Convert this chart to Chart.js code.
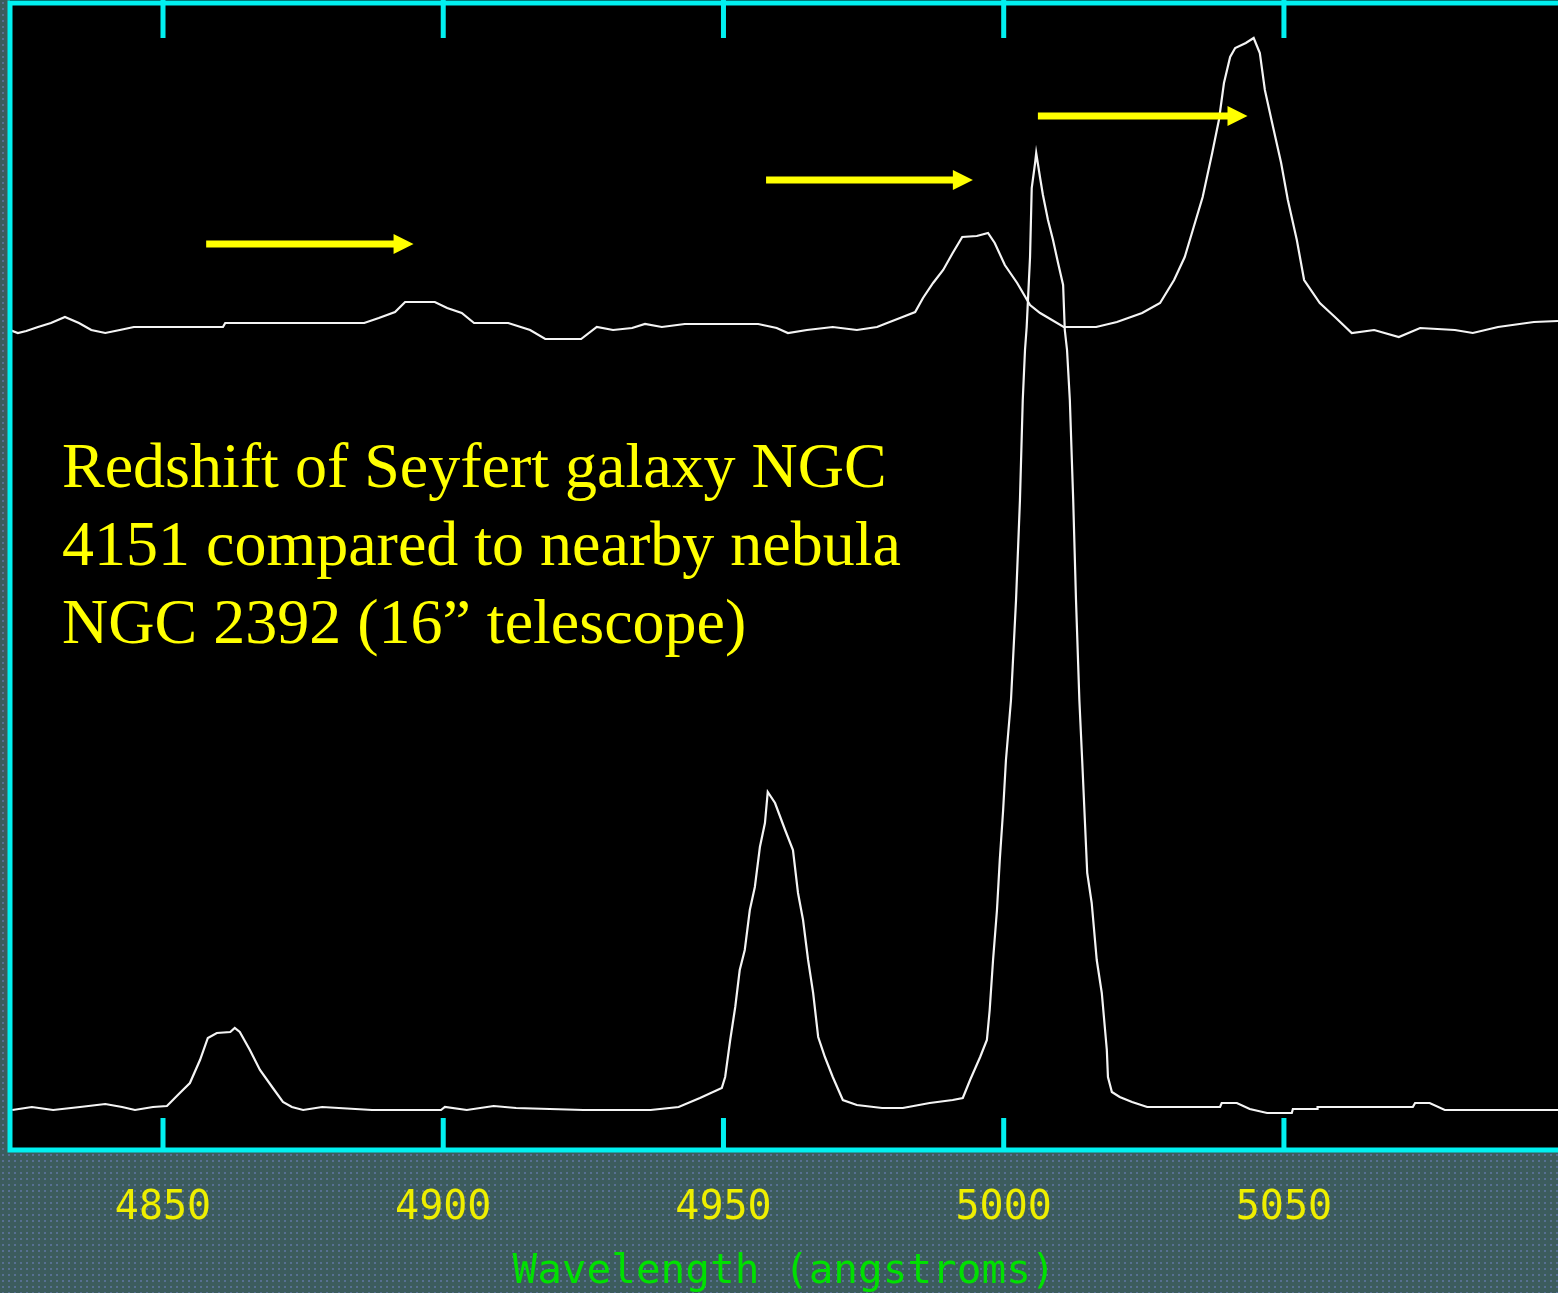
<!DOCTYPE html>
<html>
<head>
<meta charset="utf-8">
<title>NGC 4151 vs NGC 2392 spectrum</title>
<script src="https://cdn.jsdelivr.net/npm/chart.js@4.4.0/dist/chart.umd.min.js"></script>
<style>
  html, body { margin: 0; padding: 0; }
  body {
    width: 1558px;
    height: 1293px;
    overflow: hidden;
    background-color: #3c5c5d;
    background-image: radial-gradient(rgba(110, 130, 190, 0.55) 0.8px, transparent 1.4px);
    background-size: 6px 6px;
  }
  #wrap { position: relative; width: 1558px; height: 1293px; }
</style>
</head>
<body>
<div id="wrap"><canvas id="spectrum"></canvas></div>
<script>
// Seyfert galaxy NGC 4151 (upper trace), wavelength in angstroms / relative counts
const galaxyWl = [4822.7, 4824.1, 4825.6, 4827.7, 4830.0, 4832.5, 4835.0, 4837.2, 4839.7, 4842.3,
    4844.8, 4860.7, 4861.1, 4885.9, 4888.5, 4891.4, 4893.2, 4898.5, 4900.7, 4903.3,
    4905.5, 4911.6, 4915.5, 4918.2, 4924.6, 4927.4, 4930.3, 4933.7, 4936.0, 4939.0,
    4943.1, 4956.2, 4959.5, 4961.5, 4964.9, 4969.5, 4973.8, 4977.4, 4979.2, 4981.5,
    4984.2, 4985.6, 4987.4, 4989.2, 4990.9, 4992.6, 4995.2, 4997.2, 4998.4, 5000.2,
    5002.4, 5004.7, 5006.5, 5010.7, 5016.5, 5020.2, 5024.7, 5027.9, 5030.4, 5032.3,
    5033.9, 5035.5, 5037.2, 5038.4, 5039.3, 5040.4, 5041.3, 5043.2, 5044.6, 5045.7,
    5046.6, 5047.9, 5049.5, 5050.7, 5052.3, 5053.6, 5056.4, 5059.1, 5062.1, 5066.1,
    5070.5, 5074.3, 5080.5, 5083.7, 5088.2, 5094.6, 5098.9];
const galaxyFlux = [820, 817, 819, 823, 827, 833, 827, 820, 817, 820,
    823, 823, 827, 827, 832, 838, 848, 848, 842, 837,
    827, 827, 820, 811, 811, 823, 820, 822, 826, 823,
    826, 826, 822, 817, 820, 823, 820, 823, 827, 832,
    838, 852, 867, 880, 897, 913, 914, 917, 907, 885,
    867, 845, 837, 823, 823, 828, 837, 847, 870, 893,
    923, 953, 997, 1030, 1067, 1093, 1102, 1107, 1112, 1097,
    1060, 1027, 987, 950, 910, 870, 847, 833, 817, 820,
    813, 822, 820, 817, 823, 828, 829];

// Planetary nebula NGC 2392 (lower trace)
const nebulaWl = [4823.1, 4826.6, 4830.4, 4835.2, 4839.7, 4842.7, 4845.0, 4848.2, 4850.7, 4853.0,
    4854.8, 4856.6, 4858.0, 4859.6, 4862.0, 4862.8, 4863.7, 4865.5, 4867.3, 4869.6,
    4871.4, 4873.0, 4875.0, 4878.4, 4887.3, 4899.6, 4900.3, 4904.2, 4909.0, 4913.0,
    4925.0, 4937.0, 4942.0, 4945.8, 4949.7, 4950.3, 4951.2, 4952.1, 4952.9, 4953.8,
    4954.7, 4955.6, 4956.5, 4957.4, 4957.9, 4959.2, 4961.0, 4962.4, 4963.3, 4964.2,
    4965.1, 4966.0, 4966.9, 4968.1, 4969.5, 4971.3, 4973.8, 4978.3, 4982.0, 4986.8,
    4990.9, 4992.7, 4994.0, 4995.8, 4997.0, 4997.5, 4998.1, 4998.8, 4999.3, 4999.9,
    5000.4, 5001.3, 5002.2, 5002.9, 5003.4, 5003.8, 5004.1, 5004.7, 5005.0, 5005.6,
    5005.8, 5006.5, 5007.0, 5007.9, 5008.8, 5009.7, 5010.6, 5010.9, 5011.3, 5011.8,
    5012.4, 5012.9, 5013.5, 5014.0, 5014.9, 5015.7, 5016.6, 5017.5, 5018.4, 5018.6,
    5019.3, 5020.7, 5022.9, 5025.6, 5038.6, 5038.9, 5041.6, 5043.9, 5047.0, 5051.4,
    5051.6, 5055.9, 5056.0, 5073.0, 5073.4, 5076.0, 5078.7, 5098.9];
const nebulaFlux = [40, 43, 40, 43, 46, 43, 40, 43, 44, 57,
    67, 90, 112, 117, 118, 122, 118, 100, 80, 62,
    48, 43, 40, 43, 40, 40, 43, 40, 44, 42,
    40, 40, 43, 52, 62, 73, 110, 143, 180, 200,
    240, 263, 303, 327, 358, 347, 320, 300, 257, 230,
    190, 157, 113, 93, 73, 50, 45, 42, 42, 47,
    50, 52, 70, 93, 110, 140, 190, 240, 290, 340,
    390, 450, 550, 650, 750, 800, 823, 893, 962, 987,
    997, 972, 955, 930, 910, 887, 865, 820, 800, 750,
    650, 550, 450, 390, 277, 247, 190, 157, 100, 73,
    58, 53, 48, 43, 43, 47, 47, 41, 37, 37,
    41, 41, 43, 43, 47, 47, 40, 40];

const tickValues = [4850, 4900, 4950, 5000, 5050];

// yellow arrows: rest wavelength -> redshifted wavelength
const arrowFrom = [4857.7, 4957.6, 5006.1];
const arrowTo = [4894.7, 4994.5, 5043.5];
const arrowLevel = [906, 970, 1034];

const noteLines = ['Redshift of Seyfert galaxy NGC', '4151 compared to nearby nebula', 'NGC 2392 (16\u201D telescope)'];

const toPoints = (xs, ys) => xs.map((x, i) => ({ x: x, y: ys[i] }));

const frame = {
    id: 'frame',
    beforeDraw(chart) {
        const { ctx, chartArea: a } = chart;
        ctx.save();
        ctx.fillStyle = '#000000';
        ctx.fillRect(a.left, a.top - 2, a.right - a.left, a.bottom - a.top + 2);
        ctx.restore();
    },
    afterDatasetsDraw(chart) {
        const { ctx, chartArea: a, scales } = chart;
        const xs = scales.x, ys = scales.y;
        ctx.save();
        // arrows
        ctx.fillStyle = '#ffff00';
        arrowFrom.forEach((f, i) => {
            const x0 = xs.getPixelForValue(f);
            const x1 = xs.getPixelForValue(arrowTo[i]);
            const y = ys.getPixelForValue(arrowLevel[i]);
            ctx.fillRect(x0, y - 3.5, x1 - x0 - 18, 7);
            ctx.beginPath();
            ctx.moveTo(x1, y);
            ctx.lineTo(x1 - 20, y - 10);
            ctx.lineTo(x1 - 20, y + 10);
            ctx.closePath();
            ctx.fill();
        });
        // note
        ctx.font = '64px "Liberation Serif", "Times New Roman", serif';
        ctx.textBaseline = 'alphabetic';
        ctx.textAlign = 'left';
        noteLines.forEach((t, i) => ctx.fillText(t, 62, 487 + i * 78));
        // cyan frame and inner ticks
        ctx.strokeStyle = '#00f0f0';
        ctx.lineWidth = 5;
        ctx.beginPath();
        ctx.moveTo(a.right + 2, a.top + 1);
        ctx.lineTo(a.left, a.top + 1);
        ctx.lineTo(a.left, a.bottom);
        ctx.lineTo(a.right + 2, a.bottom);
        ctx.stroke();
        tickValues.forEach(v => {
            const px = xs.getPixelForValue(v);
            ctx.beginPath();
            ctx.moveTo(px, a.top - 2);
            ctx.lineTo(px, a.top + 36);
            ctx.moveTo(px, a.bottom - 32);
            ctx.lineTo(px, a.bottom);
            ctx.stroke();
        });
        ctx.restore();
    }
};

const ctx = document.getElementById('spectrum').getContext('2d');
new Chart(ctx, {
    type: 'line',
    data: {
        datasets: [
            {
                label: 'NGC 4151',
                data: toPoints(galaxyWl, galaxyFlux),
                borderColor: '#f4f4f4',
                borderWidth: 2.2,
                pointRadius: 0,
                tension: 0
            },
            {
                label: 'NGC 2392',
                data: toPoints(nebulaWl, nebulaFlux),
                borderColor: '#f4f4f4',
                borderWidth: 2.2,
                pointRadius: 0,
                tension: 0
            }
        ]
    },
    options: {
        responsive: true,
        maintainAspectRatio: false,
        animation: false,
        layout: { padding: { left: 10, top: 2, right: 0, bottom: 0 } },
        scales: {
            x: {
                type: 'linear',
                min: 4822.7,
                max: 5098.9,
                grid: { display: false },
                border: { display: false },
                afterBuildTicks: s => { s.ticks = tickValues.map(v => ({ value: v })); },
                afterFit: s => { s.height = 143; },
                ticks: {
                    color: '#eeee00',
                    padding: 31,
                    maxRotation: 0,
                    callback: v => String(v),
                    font: { family: '"DejaVu Sans Mono", monospace', size: 40, lineHeight: 1 }
                },
                title: {
                    display: true,
                    text: 'Wavelength (angstroms)',
                    color: '#00e000',
                    padding: { top: 0, bottom: 0 },
                    font: { family: '"DejaVu Sans Mono", monospace', size: 41, lineHeight: 1 }
                }
            },
            y: {
                display: false,
                min: 0,
                max: 1148
            }
        },
        plugins: {
            legend: { display: false },
            tooltip: { enabled: false }
        }
    },
    plugins: [frame]
});
</script>
</body>
</html>
